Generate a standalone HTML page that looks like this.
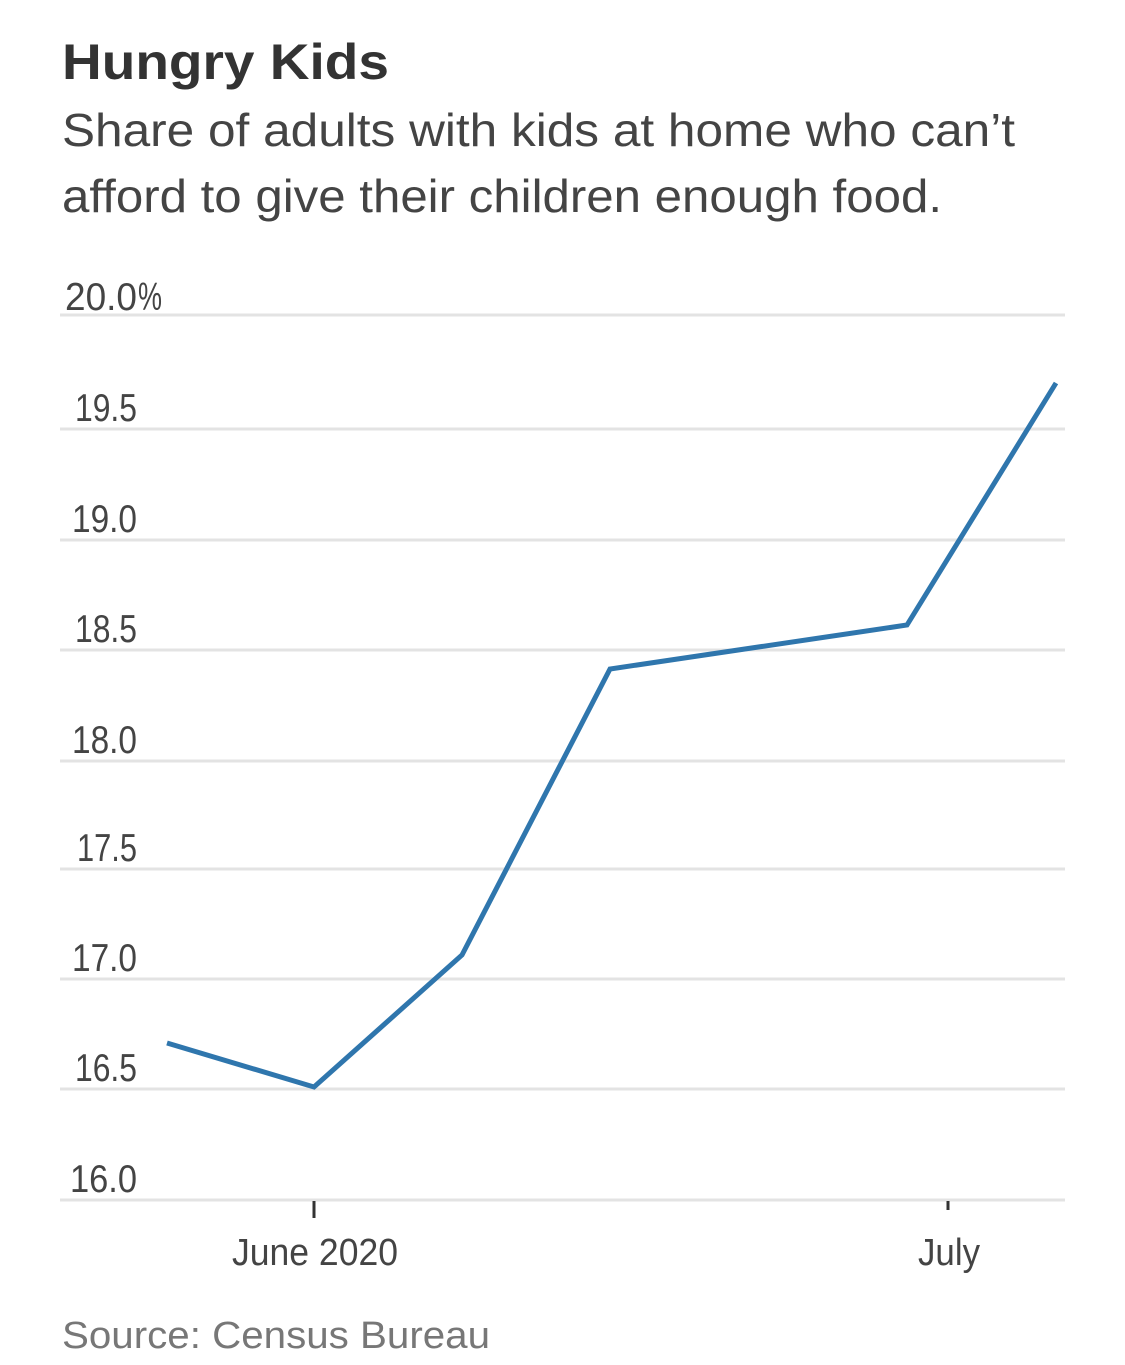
<!DOCTYPE html>
<html><head><meta charset="utf-8"><style>
body{margin:0;background:#fff;}
svg{display:block;}
</style></head><body>
<svg width="1125" height="1365" viewBox="0 0 1125 1365" xmlns="http://www.w3.org/2000/svg" font-family="Liberation Sans, sans-serif">
<text x="62" y="79" font-size="50" font-weight="bold" fill="#333" textLength="327" lengthAdjust="spacingAndGlyphs">Hungry Kids</text>
<text x="62" y="146" font-size="46" fill="#444" textLength="953" lengthAdjust="spacingAndGlyphs">Share of adults with kids at home who can’t</text>
<text x="62" y="212" font-size="46" fill="#444" textLength="880" lengthAdjust="spacingAndGlyphs">afford to give their children enough food.</text>
<g stroke="#e3e3e3" stroke-width="3">
<line x1="60" x2="1065" y1="315" y2="315"/>
<line x1="60" x2="1065" y1="429" y2="429"/>
<line x1="60" x2="1065" y1="540" y2="540"/>
<line x1="60" x2="1065" y1="650" y2="650"/>
<line x1="60" x2="1065" y1="761" y2="761"/>
<line x1="60" x2="1065" y1="869" y2="869"/>
<line x1="60" x2="1065" y1="979" y2="979"/>
<line x1="60" x2="1065" y1="1089" y2="1089"/>
<line x1="60" x2="1065" y1="1200" y2="1200"/>
</g>
<g font-size="39" fill="#444" text-anchor="end">
<text x="137" y="310" textLength="72" lengthAdjust="spacingAndGlyphs">20.0</text>
<text x="137" y="421" textLength="62" lengthAdjust="spacingAndGlyphs">19.5</text>
<text x="137" y="532" textLength="65" lengthAdjust="spacingAndGlyphs">19.0</text>
<text x="137" y="642" textLength="62" lengthAdjust="spacingAndGlyphs">18.5</text>
<text x="137" y="753" textLength="65" lengthAdjust="spacingAndGlyphs">18.0</text>
<text x="137" y="861" textLength="60" lengthAdjust="spacingAndGlyphs">17.5</text>
<text x="137" y="971" textLength="65" lengthAdjust="spacingAndGlyphs">17.0</text>
<text x="137" y="1081" textLength="62" lengthAdjust="spacingAndGlyphs">16.5</text>
<text x="137" y="1192" textLength="67" lengthAdjust="spacingAndGlyphs">16.0</text>
</g>
<text x="138" y="310" font-size="39" fill="#444" textLength="24" lengthAdjust="spacingAndGlyphs">%</text>
<g stroke="#333" stroke-width="3">
<line x1="314" x2="314" y1="1201" y2="1218"/>
<line x1="948" x2="948" y1="1201" y2="1210"/>
</g>
<g font-size="38" fill="#444" text-anchor="middle">
<text x="315" y="1265" textLength="166" lengthAdjust="spacingAndGlyphs">June 2020</text>
<text x="949" y="1265" textLength="62" lengthAdjust="spacingAndGlyphs">July</text>
</g>
<polyline points="167,1043 314,1087 462,955 610,669 907,625 1056,383" fill="none" stroke="#2f76ad" stroke-width="5" stroke-linejoin="miter"/>
<text x="62" y="1348" font-size="38" fill="#777" textLength="428" lengthAdjust="spacingAndGlyphs">Source: Census Bureau</text>
</svg>
</body></html>
